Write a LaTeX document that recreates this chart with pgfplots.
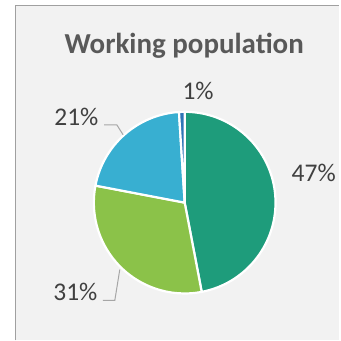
\documentclass[border=0pt]{standalone}
\usepackage{pgfplots}
\pgfplotsset{compat=1.18}
\usepackage{fontspec}
\setmainfont{Carlito}
\definecolor{cA}{HTML}{1E9C7B}
\definecolor{cB}{HTML}{8BC249}
\definecolor{cC}{HTML}{38AFD1}
\definecolor{cD}{HTML}{2E75B6}
\definecolor{bgc}{HTML}{F2F2F2}
\definecolor{framec}{HTML}{A0A0A0}
\definecolor{titlec}{HTML}{595959}
\definecolor{labc}{HTML}{404040}
\definecolor{leadc}{HTML}{A6A6A6}
\begin{document}
\begin{tikzpicture}
\begin{axis}[
  scale only axis, width=340pt, height=341pt,
  xmin=0, xmax=340, ymin=0, ymax=341,
  hide axis, clip=false]
\fill[white] (axis cs:0,0) rectangle (axis cs:340,341);
\fill[bgc] (axis cs:15,0) rectangle (axis cs:340,335.5);
\draw[framec, line width=1.2pt] (axis cs:15.5,0) -- (axis cs:15.5,335.5) -- (axis cs:340,335.5);
\xdef\startang{90}
\foreach \v/\c in {47/cA,31/cB,21/cC,1/cD}{
  \pgfmathsetmacro\endang{\startang-3.6*\v}
  \edef\temp{\noexpand\filldraw[fill=\c, draw=white, line width=2.2pt, line join=round] (axis cs:185,138) -- ++(\startang:91) arc[start angle=\startang, end angle=\endang, radius=91pt] -- cycle;}
  \temp
  \xdef\startang{\endang}
}
\node[anchor=base, inner sep=0pt, text=titlec, font=\fontsize{29}{34}\selectfont\bfseries] at (axis cs:184.5,287.7) {Working population};
\node[anchor=base west, inner sep=0pt, text=labc, font=\fontsize{25.5}{30}\selectfont] at (axis cs:182.7,241.7) {1\%};
\node[anchor=base west, inner sep=0pt, text=labc, font=\fontsize{25.5}{30}\selectfont] at (axis cs:292,159.3) {47\%};
\node[anchor=base west, inner sep=0pt, text=labc, font=\fontsize{25.5}{30}\selectfont] at (axis cs:54.3,215) {21\%};
\node[anchor=base west, inner sep=0pt, text=labc, font=\fontsize{25.5}{30}\selectfont] at (axis cs:53.3,40) {31\%};
\draw[leadc, line width=1pt] (axis cs:104.3,216) -- (axis cs:117,216) -- (axis cs:123.3,206);
\draw[leadc, line width=1pt] (axis cs:103,40) -- (axis cs:115,40) -- (axis cs:120,71);
\end{axis}
\end{tikzpicture}
\end{document}
